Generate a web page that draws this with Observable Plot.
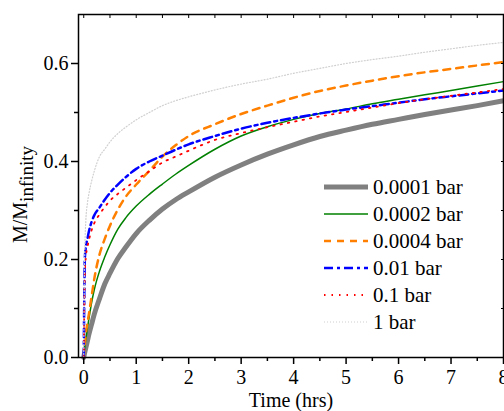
<!DOCTYPE html>
<html><head><meta charset="utf-8">
<script src="https://cdn.jsdelivr.net/npm/d3@7"></script>
<script src="https://cdn.jsdelivr.net/npm/@observablehq/plot@0.6"></script>
<style>body{margin:0;background:#fff;overflow:hidden;}</style>
</head><body><div id="chart"></div>
<script>
const times = [0, 0.01, 0.02, 0.04, 0.07, 0.1, 0.15, 0.2, 0.3, 0.4, 0.5, 0.65, 0.8, 1, 1.25, 1.5, 1.75, 2, 2.5, 3, 3.5, 4, 4.5, 5, 5.5, 6, 6.5, 7, 7.5, 8];
const bar00001 = [0, 0.006, 0.011, 0.02, 0.034, 0.048, 0.068, 0.088, 0.12, 0.15, 0.172, 0.202, 0.225, 0.253, 0.28, 0.303, 0.322, 0.338, 0.368, 0.393, 0.415, 0.434, 0.451, 0.464, 0.476, 0.486, 0.496, 0.505, 0.514, 0.524];
const bar00002 = [0, 0.012, 0.022, 0.038, 0.06, 0.08, 0.112, 0.138, 0.176, 0.205, 0.23, 0.262, 0.285, 0.309, 0.333, 0.354, 0.374, 0.392, 0.425, 0.452, 0.471, 0.486, 0.498, 0.507, 0.518, 0.527, 0.536, 0.545, 0.554, 0.563];
const bar00004 = [0, 0.015, 0.028, 0.05, 0.07, 0.09, 0.125, 0.16, 0.21, 0.242, 0.269, 0.302, 0.328, 0.353, 0.381, 0.41, 0.433, 0.452, 0.476, 0.497, 0.514, 0.53, 0.544, 0.555, 0.565, 0.574, 0.582, 0.589, 0.596, 0.603];
const bar001 = [0, 0.12, 0.2, 0.225, 0.242, 0.258, 0.277, 0.29, 0.306, 0.322, 0.336, 0.353, 0.368, 0.385, 0.4, 0.412, 0.424, 0.435, 0.452, 0.467, 0.479, 0.489, 0.498, 0.506, 0.513, 0.52, 0.527, 0.533, 0.539, 0.545];
const bar01 = [0, 0.1, 0.17, 0.205, 0.225, 0.24, 0.26, 0.274, 0.292, 0.307, 0.32, 0.334, 0.346, 0.362, 0.38, 0.398, 0.41, 0.422, 0.444, 0.458, 0.47, 0.481, 0.492, 0.501, 0.51, 0.519, 0.527, 0.534, 0.541, 0.548];
const bar1 = [0, 0.15, 0.22, 0.28, 0.315, 0.335, 0.36, 0.38, 0.41, 0.425, 0.44, 0.457, 0.47, 0.485, 0.5, 0.514, 0.524, 0.532, 0.546, 0.558, 0.568, 0.58, 0.59, 0.6, 0.608, 0.615, 0.623, 0.63, 0.637, 0.643];

const seriesNames = ["0.0001 bar", "0.0002 bar", "0.0004 bar", "0.01 bar", "0.1 bar", "1 bar"];
const seriesValues = [bar00001, bar00002, bar00004, bar001, bar01, bar1];
const xMajor = [0, 1, 2, 3, 4, 5, 6, 7, 8];
const xMinor = [0.5, 1.5, 2.5, 3.5, 4.5, 5.5, 6.5, 7.5];
const yMajor = [0, 0.2, 0.4, 0.6];
const yMinor = [0.1, 0.3, 0.5];

const styles = [
  {stroke: "#808080", strokeWidth: 5, strokeDasharray: null},
  {stroke: "#008000", strokeWidth: 1.5, strokeDasharray: null},
  {stroke: "#ff8000", strokeWidth: 2.5, strokeDasharray: "7,6"},
  {stroke: "#0000ff", strokeWidth: 2.5, strokeDasharray: "9,4,3,4"},
  {stroke: "#ff0000", strokeWidth: 1.8, strokeDasharray: "1.5,6"},
  {stroke: "#d0d0d0", strokeWidth: 1.2, strokeDasharray: "1,2"}
];

const tables = seriesValues.map((vals, i) => times.map((t, j) => ({t, v: vals[j], s: seriesNames[i]})));

const font = "'Liberation Serif', 'Times New Roman', serif";

const plot = Plot.plot({
  width: 504, height: 411,
  marginLeft: 78, marginRight: 1, marginTop: 14, marginBottom: 54,
  style: {fontFamily: font, fontSize: "20px", background: "white", color: "black"},
  x: {domain: [-0.1, 8]},
  y: {domain: [0, 0.7]},
  marks: [
    ...tables.map((d, i) => Plot.line(d, {x: "t", y: "v", curve: "monotone-x", ...styles[i]})),
    Plot.frame({stroke: "black", strokeWidth: 1.5}),
    Plot.axisX({ticks: xMajor, tickSize: 7, tickPadding: 5, tickFormat: d => String(d), label: "Time (hrs)", labelAnchor: "center", labelArrow: "none", labelOffset: 49, strokeWidth: 1.5}),
    Plot.axisX({ticks: xMinor, tickSize: 4, tickFormat: () => "", label: null, strokeWidth: 1.5}),
    Plot.axisX({anchor: "top", ticks: [...xMajor, ...xMinor], tickSize: -3, tickFormat: () => "", label: null, strokeWidth: 1}),
    Plot.axisY({ticks: yMajor, tickSize: 7, tickPadding: 3, tickFormat: d3.format(".1f"), label: null, strokeWidth: 1.5}),
    Plot.axisY({ticks: yMinor, tickSize: 4, tickFormat: () => "", label: null, strokeWidth: 1.5}),
    Plot.axisY({anchor: "right", ticks: [...yMajor, ...yMinor], tickSize: -3, tickFormat: () => "", label: null, strokeWidth: 1})
  ]
});

const svg = d3.select(plot);
// y axis title with subscript
const yl = svg.append("text")
  .attr("transform", "translate(27,243) rotate(-90)")
  .attr("text-anchor", "start")
  .attr("font-family", font).attr("font-size", 20).attr("fill", "black");
yl.append("tspan").text("M/M");
yl.append("tspan").attr("dy", 6).attr("font-size", 19).text("infinity");

// legend
const lg = svg.append("g").attr("font-family", font).attr("font-size", 21).attr("text-anchor", "start");
seriesNames.forEach((name, i) => {
  const y = 187 + i * 27;
  const st = styles[i];
  lg.append("line").attr("x1", 324).attr("x2", 368).attr("y1", y).attr("y2", y)
    .attr("stroke", st.stroke).attr("stroke-width", st.strokeWidth)
    .attr("stroke-dasharray", st.strokeDasharray);
  lg.append("text").attr("x", 373).attr("y", y).attr("dy", "0.33em").attr("fill", "black").text(name);
});

document.getElementById("chart").append(plot);
</script>
</body></html>
